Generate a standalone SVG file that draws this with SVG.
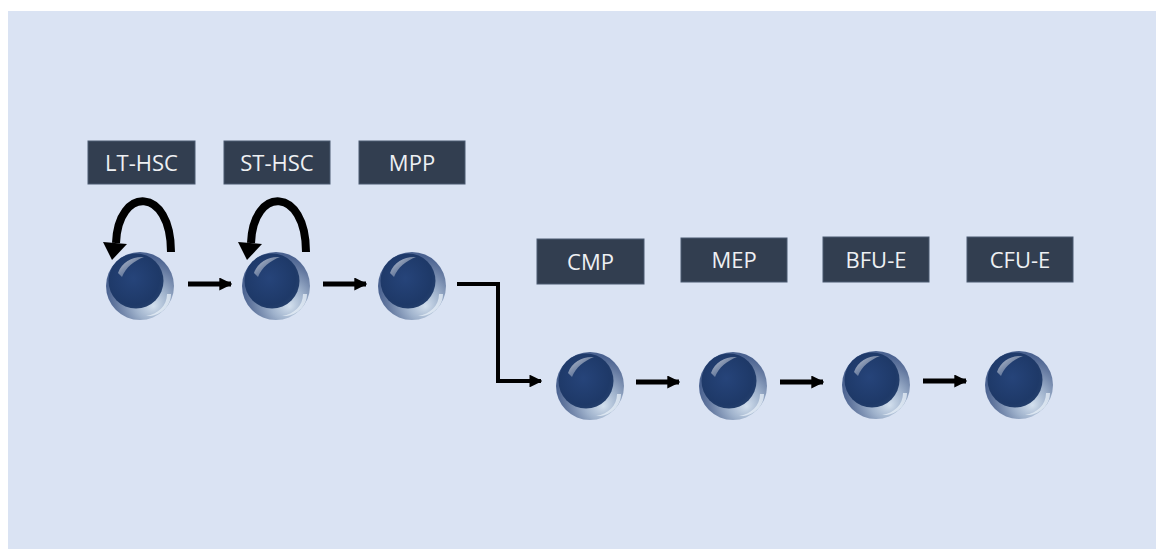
<svg xmlns="http://www.w3.org/2000/svg" width="1156" height="551" viewBox="0 0 1156 551">
  <defs>
    <!-- metallic shell of a cell -->
    <radialGradient id="shell" cx="0.62" cy="0.68" r="0.62" fx="0.7" fy="0.8">
      <stop offset="0" stop-color="#d3e0ee"/>
      <stop offset="0.4" stop-color="#9fb2cc"/>
      <stop offset="0.8" stop-color="#6479a0"/>
      <stop offset="1" stop-color="#4a6290"/>
    </radialGradient>
    <!-- dark nucleus body -->
    <radialGradient id="core" cx="0.45" cy="0.45" r="0.6">
      <stop offset="0" stop-color="#26447a"/>
      <stop offset="0.8" stop-color="#1e3968"/>
      <stop offset="1" stop-color="#25406c"/>
    </radialGradient>
    <linearGradient id="gloss" x1="0" y1="0" x2="1" y2="1">
      <stop offset="0" stop-color="#ffffff" stop-opacity="0.9"/>
      <stop offset="1" stop-color="#ffffff" stop-opacity="0"/>
    </linearGradient>
    <marker id="head" viewBox="0 0 10 10" refX="9" refY="5" markerWidth="2.6" markerHeight="2.6" orient="auto" markerUnits="strokeWidth">
      <path d="M0,0 L10,5 L0,10 z" fill="#000"/>
    </marker>
    <marker id="head2" viewBox="0 0 10 10" refX="9" refY="5" markerWidth="3.2" markerHeight="3.2" orient="auto" markerUnits="strokeWidth">
      <path d="M0,0 L10,5 L0,10 z" fill="#000"/>
    </marker>
    <!-- reusable cell glyph centered on 0,0 -->
    <g id="cell">
      <circle r="34" fill="url(#shell)"/>
      <circle cx="-4" cy="-5" r="27.5" fill="url(#core)"/>
      <path d="M-22,-13 C-18,-25 -6,-30 4,-29 C-6,-25 -14,-19 -18,-9 Z" fill="url(#gloss)" opacity="0.8"/>
      <path d="M27,8 C27,20 18,28 6,30 C18,31 31,22 31,8 Z" fill="#e8f0f8" opacity="0.75"/>
    </g>
  </defs>
  <style>
    .box { fill: #323e50; stroke: #4a5a70; stroke-width: 1; }
    .lbl { font-family: "Open Sans", "Noto Sans", sans-serif; font-size: 22px; fill: #eef0f3; text-anchor: middle; }
    .arrow { stroke: #000; stroke-width: 5; fill: none; marker-end: url(#head); }
    .elbow { stroke: #000; stroke-width: 4; fill: none; marker-end: url(#head2); }
    .loop { stroke: #000; stroke-width: 8; fill: none; }
  </style>

  <rect x="0" y="0" width="1156" height="551" fill="#ffffff"/>
  <rect x="8" y="11" width="1148" height="538" fill="#dae3f3"/>

  <g id="connectors">
    <path class="arrow" d="M188,284 H231"/>
    <path class="arrow" d="M323,284 H366"/>
    <path class="elbow" d="M457,284 H498 V381 H541"/>
    <path class="arrow" d="M636,382 H679"/>
    <path class="arrow" d="M780,382 H823"/>
    <path class="arrow" d="M923,381 H966"/>
    <path class="loop" d="M171,252 C171,186 118,186 116,243"/>
    <polygon points="103,242 127,244 112,260" fill="#000"/>
    <path class="loop" d="M306,252 C306,186 253,186 251,243"/>
    <polygon points="238,242 262,244 247,260" fill="#000"/>
  </g>

  <g id="lt-hsc">
    <rect class="box" x="88" y="141" width="107" height="43"/>
    <text class="lbl" x="141.5" y="171">LT-HSC</text>
    <use href="#cell" x="140" y="286"/>
  </g>
  <g id="st-hsc">
    <rect class="box" x="224" y="141" width="106" height="43"/>
    <text class="lbl" x="277" y="171">ST-HSC</text>
    <use href="#cell" x="276" y="286"/>
  </g>
  <g id="mpp">
    <rect class="box" x="359" y="141" width="106" height="43"/>
    <text class="lbl" x="412" y="171">MPP</text>
    <use href="#cell" x="412" y="286"/>
  </g>
  <g id="cmp">
    <rect class="box" x="537" y="239" width="107" height="45"/>
    <text class="lbl" x="590.5" y="270">CMP</text>
    <use href="#cell" x="590" y="386"/>
  </g>
  <g id="mep">
    <rect class="box" x="681" y="238" width="106" height="44"/>
    <text class="lbl" x="734" y="268">MEP</text>
    <use href="#cell" x="733" y="386"/>
  </g>
  <g id="bfu-e">
    <rect class="box" x="823" y="237" width="106" height="45"/>
    <text class="lbl" x="876" y="268">BFU-E</text>
    <use href="#cell" x="876" y="385"/>
  </g>
  <g id="cfu-e">
    <rect class="box" x="967" y="237" width="106" height="45"/>
    <text class="lbl" x="1020" y="268">CFU-E</text>
    <use href="#cell" x="1019" y="385"/>
  </g>
</svg>
